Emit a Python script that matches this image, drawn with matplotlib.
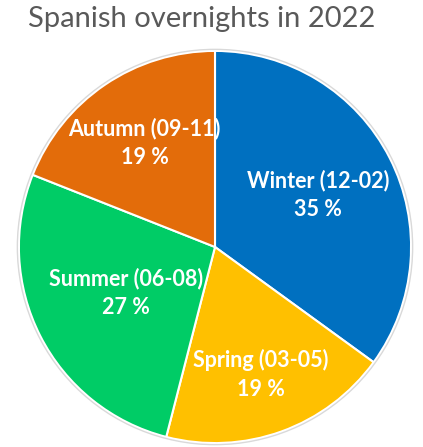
"""Spanish overnights by season, 2022 (pie)."""
import numpy as np
import matplotlib; matplotlib.use("Agg")
import matplotlib.pyplot as plt

seasons = ["Winter (12-02)", "Spring (03-05)", "Summer (06-08)", "Autumn (09-11)"]
shares = [35, 19, 27, 19]
colors = ["#0070C0", "#FFC000", "#00CC66", "#E36C0A"]
label_dist = [0.59, 0.69, 0.51, 0.64]

plt.rcParams["font.family"] = ["Lato", "DejaVu Sans"]

fig = plt.figure(figsize=(4.23, 4.47), dpi=100)
ax = fig.add_axes([15 / 423, 0, 400 / 423, 400 / 447])
wedges, _ = ax.pie(shares, colors=colors, startangle=90, counterclock=False,
                   wedgeprops=dict(edgecolor="white", linewidth=1.5))
ax.add_patch(plt.Circle((0, 0), 1.008, fill=False, edgecolor="#d9d9d9", lw=1))
for w, lab, v, d in zip(wedges, seasons, shares, label_dist):
    ang = np.deg2rad((w.theta1 + w.theta2) / 2)
    ax.text(d * np.cos(ang), d * np.sin(ang), f"{lab}\n{v} %", ha="center", va="center",
            color="white", fontsize=15.5, fontweight="bold", linespacing=1.45)
ax.set_xlim(-1.02, 1.02); ax.set_ylim(-1.02, 1.02); ax.set_aspect("equal")
fig.text(202 / 423, 1 - 19 / 447, "Spanish overnights in 2022", ha="center", va="center",
         color="#595959", fontsize=21)
fig.savefig("out.png", dpi=100)
